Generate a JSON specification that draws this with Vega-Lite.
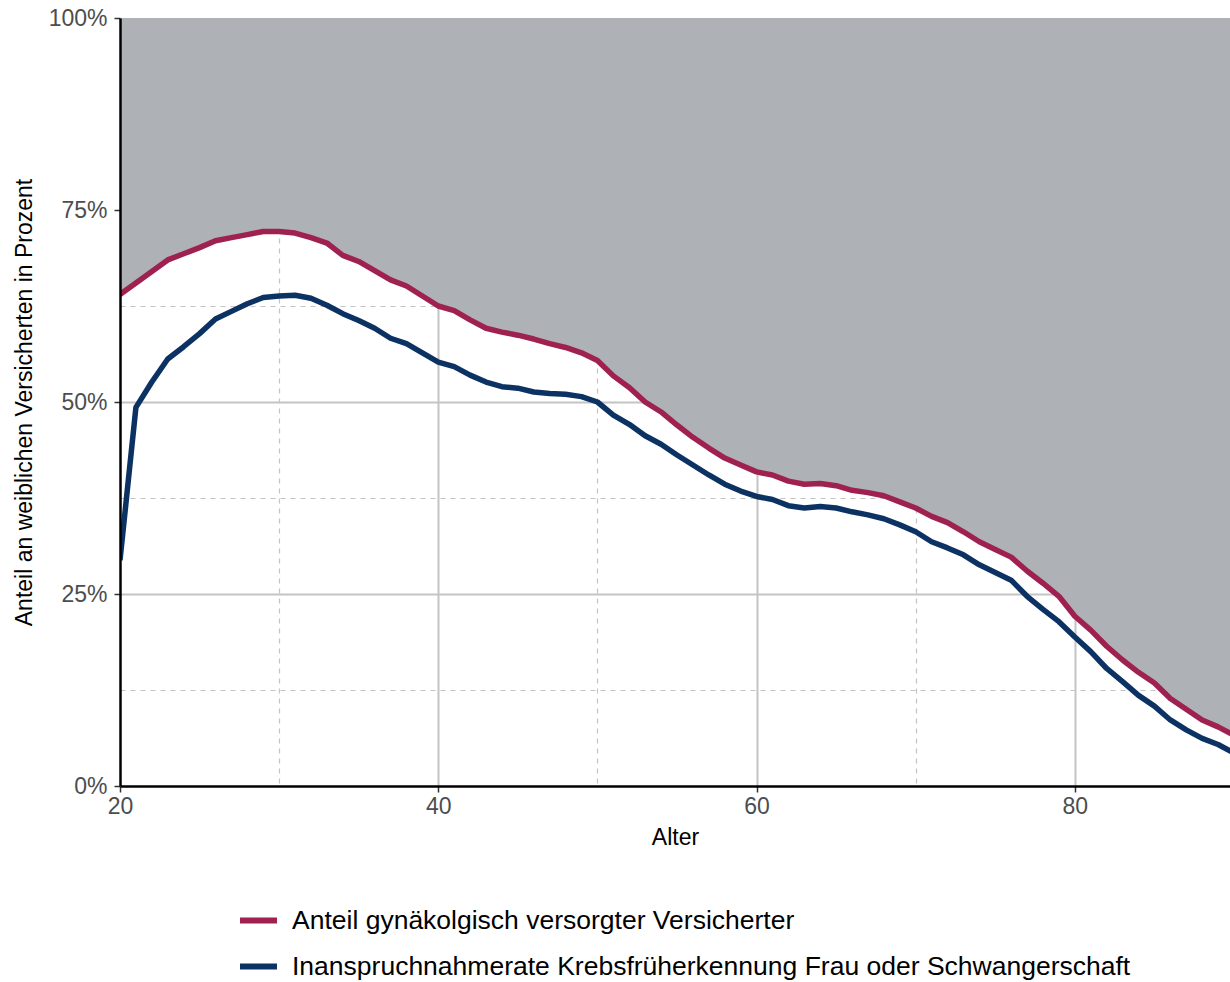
{
  "$schema": "https://vega.github.io/schema/vega-lite/v6.json",
  "width": 1110,
  "height": 768,
  "autosize": {"type": "none"},
  "padding": {"left": 120, "top": 18, "right": 0, "bottom": 196},
  "background": "white",
  "config": {
    "view": {"stroke": null},
    "font": "Liberation Sans"
  },
  "data": {
    "values": [
      {"Alter": 20, "Anteil gynäkolgisch versorgter Versicherter": 64.0, "Inanspruchnahmerate Krebsfrüherkennung Frau oder Schwangerschaft": 29.4},
      {"Alter": 21, "Anteil gynäkolgisch versorgter Versicherter": 65.5, "Inanspruchnahmerate Krebsfrüherkennung Frau oder Schwangerschaft": 49.3},
      {"Alter": 22, "Anteil gynäkolgisch versorgter Versicherter": 67.0, "Inanspruchnahmerate Krebsfrüherkennung Frau oder Schwangerschaft": 52.6},
      {"Alter": 23, "Anteil gynäkolgisch versorgter Versicherter": 68.5, "Inanspruchnahmerate Krebsfrüherkennung Frau oder Schwangerschaft": 55.6},
      {"Alter": 24, "Anteil gynäkolgisch versorgter Versicherter": 69.3, "Inanspruchnahmerate Krebsfrüherkennung Frau oder Schwangerschaft": 57.2},
      {"Alter": 25, "Anteil gynäkolgisch versorgter Versicherter": 70.1, "Inanspruchnahmerate Krebsfrüherkennung Frau oder Schwangerschaft": 58.9},
      {"Alter": 26, "Anteil gynäkolgisch versorgter Versicherter": 71.0, "Inanspruchnahmerate Krebsfrüherkennung Frau oder Schwangerschaft": 60.8},
      {"Alter": 27, "Anteil gynäkolgisch versorgter Versicherter": 71.4, "Inanspruchnahmerate Krebsfrüherkennung Frau oder Schwangerschaft": 61.8},
      {"Alter": 28, "Anteil gynäkolgisch versorgter Versicherter": 71.8, "Inanspruchnahmerate Krebsfrüherkennung Frau oder Schwangerschaft": 62.8},
      {"Alter": 29, "Anteil gynäkolgisch versorgter Versicherter": 72.2, "Inanspruchnahmerate Krebsfrüherkennung Frau oder Schwangerschaft": 63.6},
      {"Alter": 30, "Anteil gynäkolgisch versorgter Versicherter": 72.2, "Inanspruchnahmerate Krebsfrüherkennung Frau oder Schwangerschaft": 63.8},
      {"Alter": 31, "Anteil gynäkolgisch versorgter Versicherter": 72.0, "Inanspruchnahmerate Krebsfrüherkennung Frau oder Schwangerschaft": 63.9},
      {"Alter": 32, "Anteil gynäkolgisch versorgter Versicherter": 71.4, "Inanspruchnahmerate Krebsfrüherkennung Frau oder Schwangerschaft": 63.5},
      {"Alter": 33, "Anteil gynäkolgisch versorgter Versicherter": 70.7, "Inanspruchnahmerate Krebsfrüherkennung Frau oder Schwangerschaft": 62.6},
      {"Alter": 34, "Anteil gynäkolgisch versorgter Versicherter": 69.1, "Inanspruchnahmerate Krebsfrüherkennung Frau oder Schwangerschaft": 61.5},
      {"Alter": 35, "Anteil gynäkolgisch versorgter Versicherter": 68.3, "Inanspruchnahmerate Krebsfrüherkennung Frau oder Schwangerschaft": 60.6},
      {"Alter": 36, "Anteil gynäkolgisch versorgter Versicherter": 67.1, "Inanspruchnahmerate Krebsfrüherkennung Frau oder Schwangerschaft": 59.6},
      {"Alter": 37, "Anteil gynäkolgisch versorgter Versicherter": 65.9, "Inanspruchnahmerate Krebsfrüherkennung Frau oder Schwangerschaft": 58.3},
      {"Alter": 38, "Anteil gynäkolgisch versorgter Versicherter": 65.1, "Inanspruchnahmerate Krebsfrüherkennung Frau oder Schwangerschaft": 57.6},
      {"Alter": 39, "Anteil gynäkolgisch versorgter Versicherter": 63.8, "Inanspruchnahmerate Krebsfrüherkennung Frau oder Schwangerschaft": 56.4},
      {"Alter": 40, "Anteil gynäkolgisch versorgter Versicherter": 62.5, "Inanspruchnahmerate Krebsfrüherkennung Frau oder Schwangerschaft": 55.2},
      {"Alter": 41, "Anteil gynäkolgisch versorgter Versicherter": 61.9, "Inanspruchnahmerate Krebsfrüherkennung Frau oder Schwangerschaft": 54.6},
      {"Alter": 42, "Anteil gynäkolgisch versorgter Versicherter": 60.7, "Inanspruchnahmerate Krebsfrüherkennung Frau oder Schwangerschaft": 53.5},
      {"Alter": 43, "Anteil gynäkolgisch versorgter Versicherter": 59.6, "Inanspruchnahmerate Krebsfrüherkennung Frau oder Schwangerschaft": 52.6},
      {"Alter": 44, "Anteil gynäkolgisch versorgter Versicherter": 59.1, "Inanspruchnahmerate Krebsfrüherkennung Frau oder Schwangerschaft": 52.0},
      {"Alter": 45, "Anteil gynäkolgisch versorgter Versicherter": 58.7, "Inanspruchnahmerate Krebsfrüherkennung Frau oder Schwangerschaft": 51.8},
      {"Alter": 46, "Anteil gynäkolgisch versorgter Versicherter": 58.2, "Inanspruchnahmerate Krebsfrüherkennung Frau oder Schwangerschaft": 51.3},
      {"Alter": 47, "Anteil gynäkolgisch versorgter Versicherter": 57.6, "Inanspruchnahmerate Krebsfrüherkennung Frau oder Schwangerschaft": 51.1},
      {"Alter": 48, "Anteil gynäkolgisch versorgter Versicherter": 57.1, "Inanspruchnahmerate Krebsfrüherkennung Frau oder Schwangerschaft": 51.0},
      {"Alter": 49, "Anteil gynäkolgisch versorgter Versicherter": 56.4, "Inanspruchnahmerate Krebsfrüherkennung Frau oder Schwangerschaft": 50.7},
      {"Alter": 50, "Anteil gynäkolgisch versorgter Versicherter": 55.4, "Inanspruchnahmerate Krebsfrüherkennung Frau oder Schwangerschaft": 50.0},
      {"Alter": 51, "Anteil gynäkolgisch versorgter Versicherter": 53.4, "Inanspruchnahmerate Krebsfrüherkennung Frau oder Schwangerschaft": 48.3},
      {"Alter": 52, "Anteil gynäkolgisch versorgter Versicherter": 51.9, "Inanspruchnahmerate Krebsfrüherkennung Frau oder Schwangerschaft": 47.1},
      {"Alter": 53, "Anteil gynäkolgisch versorgter Versicherter": 50.0, "Inanspruchnahmerate Krebsfrüherkennung Frau oder Schwangerschaft": 45.6},
      {"Alter": 54, "Anteil gynäkolgisch versorgter Versicherter": 48.7, "Inanspruchnahmerate Krebsfrüherkennung Frau oder Schwangerschaft": 44.5},
      {"Alter": 55, "Anteil gynäkolgisch versorgter Versicherter": 47.0, "Inanspruchnahmerate Krebsfrüherkennung Frau oder Schwangerschaft": 43.1},
      {"Alter": 56, "Anteil gynäkolgisch versorgter Versicherter": 45.4, "Inanspruchnahmerate Krebsfrüherkennung Frau oder Schwangerschaft": 41.8},
      {"Alter": 57, "Anteil gynäkolgisch versorgter Versicherter": 44.0, "Inanspruchnahmerate Krebsfrüherkennung Frau oder Schwangerschaft": 40.5},
      {"Alter": 58, "Anteil gynäkolgisch versorgter Versicherter": 42.7, "Inanspruchnahmerate Krebsfrüherkennung Frau oder Schwangerschaft": 39.3},
      {"Alter": 59, "Anteil gynäkolgisch versorgter Versicherter": 41.8, "Inanspruchnahmerate Krebsfrüherkennung Frau oder Schwangerschaft": 38.4},
      {"Alter": 60, "Anteil gynäkolgisch versorgter Versicherter": 40.9, "Inanspruchnahmerate Krebsfrüherkennung Frau oder Schwangerschaft": 37.7},
      {"Alter": 61, "Anteil gynäkolgisch versorgter Versicherter": 40.5, "Inanspruchnahmerate Krebsfrüherkennung Frau oder Schwangerschaft": 37.3},
      {"Alter": 62, "Anteil gynäkolgisch versorgter Versicherter": 39.7, "Inanspruchnahmerate Krebsfrüherkennung Frau oder Schwangerschaft": 36.5},
      {"Alter": 63, "Anteil gynäkolgisch versorgter Versicherter": 39.3, "Inanspruchnahmerate Krebsfrüherkennung Frau oder Schwangerschaft": 36.2},
      {"Alter": 64, "Anteil gynäkolgisch versorgter Versicherter": 39.4, "Inanspruchnahmerate Krebsfrüherkennung Frau oder Schwangerschaft": 36.4},
      {"Alter": 65, "Anteil gynäkolgisch versorgter Versicherter": 39.1, "Inanspruchnahmerate Krebsfrüherkennung Frau oder Schwangerschaft": 36.2},
      {"Alter": 66, "Anteil gynäkolgisch versorgter Versicherter": 38.5, "Inanspruchnahmerate Krebsfrüherkennung Frau oder Schwangerschaft": 35.7},
      {"Alter": 67, "Anteil gynäkolgisch versorgter Versicherter": 38.2, "Inanspruchnahmerate Krebsfrüherkennung Frau oder Schwangerschaft": 35.3},
      {"Alter": 68, "Anteil gynäkolgisch versorgter Versicherter": 37.8, "Inanspruchnahmerate Krebsfrüherkennung Frau oder Schwangerschaft": 34.8},
      {"Alter": 69, "Anteil gynäkolgisch versorgter Versicherter": 37.0, "Inanspruchnahmerate Krebsfrüherkennung Frau oder Schwangerschaft": 34.0},
      {"Alter": 70, "Anteil gynäkolgisch versorgter Versicherter": 36.2, "Inanspruchnahmerate Krebsfrüherkennung Frau oder Schwangerschaft": 33.1},
      {"Alter": 71, "Anteil gynäkolgisch versorgter Versicherter": 35.1, "Inanspruchnahmerate Krebsfrüherkennung Frau oder Schwangerschaft": 31.8},
      {"Alter": 72, "Anteil gynäkolgisch versorgter Versicherter": 34.3, "Inanspruchnahmerate Krebsfrüherkennung Frau oder Schwangerschaft": 31.0},
      {"Alter": 73, "Anteil gynäkolgisch versorgter Versicherter": 33.1, "Inanspruchnahmerate Krebsfrüherkennung Frau oder Schwangerschaft": 30.1},
      {"Alter": 74, "Anteil gynäkolgisch versorgter Versicherter": 31.8, "Inanspruchnahmerate Krebsfrüherkennung Frau oder Schwangerschaft": 28.8},
      {"Alter": 75, "Anteil gynäkolgisch versorgter Versicherter": 30.8, "Inanspruchnahmerate Krebsfrüherkennung Frau oder Schwangerschaft": 27.8},
      {"Alter": 76, "Anteil gynäkolgisch versorgter Versicherter": 29.8, "Inanspruchnahmerate Krebsfrüherkennung Frau oder Schwangerschaft": 26.8},
      {"Alter": 77, "Anteil gynäkolgisch versorgter Versicherter": 28.0, "Inanspruchnahmerate Krebsfrüherkennung Frau oder Schwangerschaft": 24.7},
      {"Alter": 78, "Anteil gynäkolgisch versorgter Versicherter": 26.4, "Inanspruchnahmerate Krebsfrüherkennung Frau oder Schwangerschaft": 23.0},
      {"Alter": 79, "Anteil gynäkolgisch versorgter Versicherter": 24.7, "Inanspruchnahmerate Krebsfrüherkennung Frau oder Schwangerschaft": 21.4},
      {"Alter": 80, "Anteil gynäkolgisch versorgter Versicherter": 22.1, "Inanspruchnahmerate Krebsfrüherkennung Frau oder Schwangerschaft": 19.4},
      {"Alter": 81, "Anteil gynäkolgisch versorgter Versicherter": 20.3, "Inanspruchnahmerate Krebsfrüherkennung Frau oder Schwangerschaft": 17.5},
      {"Alter": 82, "Anteil gynäkolgisch versorgter Versicherter": 18.2, "Inanspruchnahmerate Krebsfrüherkennung Frau oder Schwangerschaft": 15.3},
      {"Alter": 83, "Anteil gynäkolgisch versorgter Versicherter": 16.4, "Inanspruchnahmerate Krebsfrüherkennung Frau oder Schwangerschaft": 13.6},
      {"Alter": 84, "Anteil gynäkolgisch versorgter Versicherter": 14.8, "Inanspruchnahmerate Krebsfrüherkennung Frau oder Schwangerschaft": 11.8},
      {"Alter": 85, "Anteil gynäkolgisch versorgter Versicherter": 13.4, "Inanspruchnahmerate Krebsfrüherkennung Frau oder Schwangerschaft": 10.4},
      {"Alter": 86, "Anteil gynäkolgisch versorgter Versicherter": 11.4, "Inanspruchnahmerate Krebsfrüherkennung Frau oder Schwangerschaft": 8.6},
      {"Alter": 87, "Anteil gynäkolgisch versorgter Versicherter": 10.0, "Inanspruchnahmerate Krebsfrüherkennung Frau oder Schwangerschaft": 7.3},
      {"Alter": 88, "Anteil gynäkolgisch versorgter Versicherter": 8.6, "Inanspruchnahmerate Krebsfrüherkennung Frau oder Schwangerschaft": 6.2},
      {"Alter": 89, "Anteil gynäkolgisch versorgter Versicherter": 7.7, "Inanspruchnahmerate Krebsfrüherkennung Frau oder Schwangerschaft": 5.4},
      {"Alter": 90, "Anteil gynäkolgisch versorgter Versicherter": 6.6, "Inanspruchnahmerate Krebsfrüherkennung Frau oder Schwangerschaft": 4.3}
    ]
  },
  "layer": [
    {
      "mark": {"type": "area", "color": "#aeb2b6", "clip": true, "opacity": 1},
      "encoding": {
        "x": {
          "field": "Alter", "type": "quantitative",
          "scale": {"domain": [20, 89.75], "nice": false, "zero": false},
          "axis": {
            "orient": "bottom", "values": [30, 40, 50, 60, 70, 80],
            "labels": false, "ticks": false, "domain": false, "title": null,
            "grid": true, "gridColor": "#c4c4c4",
            "gridWidth": {"condition": {"test": "datum.value % 20 == 0", "value": 2}, "value": 1.2},
            "gridDash": {"condition": {"test": "datum.value % 20 == 0", "value": []}, "value": [5, 5]},
            "zindex": 0
          }
        },
        "y": {
          "field": "Anteil gynäkolgisch versorgter Versicherter", "type": "quantitative",
          "scale": {"domain": [0, 100], "nice": false},
          "axis": {
            "orient": "left", "values": [12.5, 25, 37.5, 50, 62.5, 75, 87.5],
            "labels": false, "ticks": false, "domain": false, "title": null,
            "grid": true, "gridColor": "#c4c4c4",
            "gridWidth": {"condition": {"test": "datum.value % 25 == 0", "value": 2}, "value": 1.2},
            "gridDash": {"condition": {"test": "datum.value % 25 == 0", "value": []}, "value": [5, 5]},
            "zindex": 0
          }
        },
        "y2": {"datum": 100}
      }
    },
    {
      "transform": [
        {"fold": ["Anteil gynäkolgisch versorgter Versicherter", "Inanspruchnahmerate Krebsfrüherkennung Frau oder Schwangerschaft"], "as": ["Reihe", "Wert"]}
      ],
      "mark": {"type": "line", "strokeWidth": 5.5, "clip": true, "strokeJoin": "round"},
      "encoding": {
        "x": {
          "field": "Alter", "type": "quantitative",
          "scale": {"domain": [20, 89.75], "nice": false, "zero": false},
          "axis": {
            "orient": "bottom", "values": [20, 40, 60, 80], "title": "Alter",
            "grid": false, "domainColor": "#000000", "domainWidth": 2.5,
            "tickColor": "#333333", "tickWidth": 1.5, "tickSize": 6,
            "labelFlush": false,
            "labelFont": "Liberation Sans", "labelFontSize": 23, "labelColor": "#4d4d4d", "labelPadding": 3,
            "titleFont": "Liberation Sans", "titleFontSize": 23, "titleFontWeight": "normal", "titleColor": "#000000", "titlePadding": 8,
            "zindex": 1
          }
        },
        "y": {
          "field": "Wert", "type": "quantitative",
          "scale": {"domain": [0, 100], "nice": false},
          "axis": {
            "orient": "left", "values": [0, 25, 50, 75, 100],
            "labelExpr": "datum.value + '%'",
            "labelFlush": false,
            "title": "Anteil an weiblichen Versicherten in Prozent",
            "grid": false, "domainColor": "#000000", "domainWidth": 2.5,
            "tickColor": "#333333", "tickWidth": 1.5, "tickSize": 6,
            "labelFont": "Liberation Sans", "labelFontSize": 23, "labelColor": "#4d4d4d", "labelPadding": 7,
            "titleFont": "Liberation Sans", "titleFontSize": 23, "titleFontWeight": "normal", "titleColor": "#000000", "titlePadding": 12,
            "zindex": 1
          }
        },
        "color": {
          "field": "Reihe", "type": "nominal",
          "scale": {
            "domain": ["Anteil gynäkolgisch versorgter Versicherter", "Inanspruchnahmerate Krebsfrüherkennung Frau oder Schwangerschaft"],
            "range": ["#9e2150", "#0c3263"]
          },
          "legend": {
            "orient": "none", "legendX": 117, "legendY": 881, "direction": "vertical",
            "title": null, "symbolType": "stroke", "symbolSize": 1369, "symbolStrokeWidth": 6,
            "labelFont": "Liberation Sans", "labelFontSize": 26.5, "labelColor": "#000000",
            "labelOffset": 12, "rowPadding": 11, "labelLimit": 1200
          }
        }
      }
    }
  ],
  "resolve": {"axis": {"x": "independent", "y": "independent"}}
}
